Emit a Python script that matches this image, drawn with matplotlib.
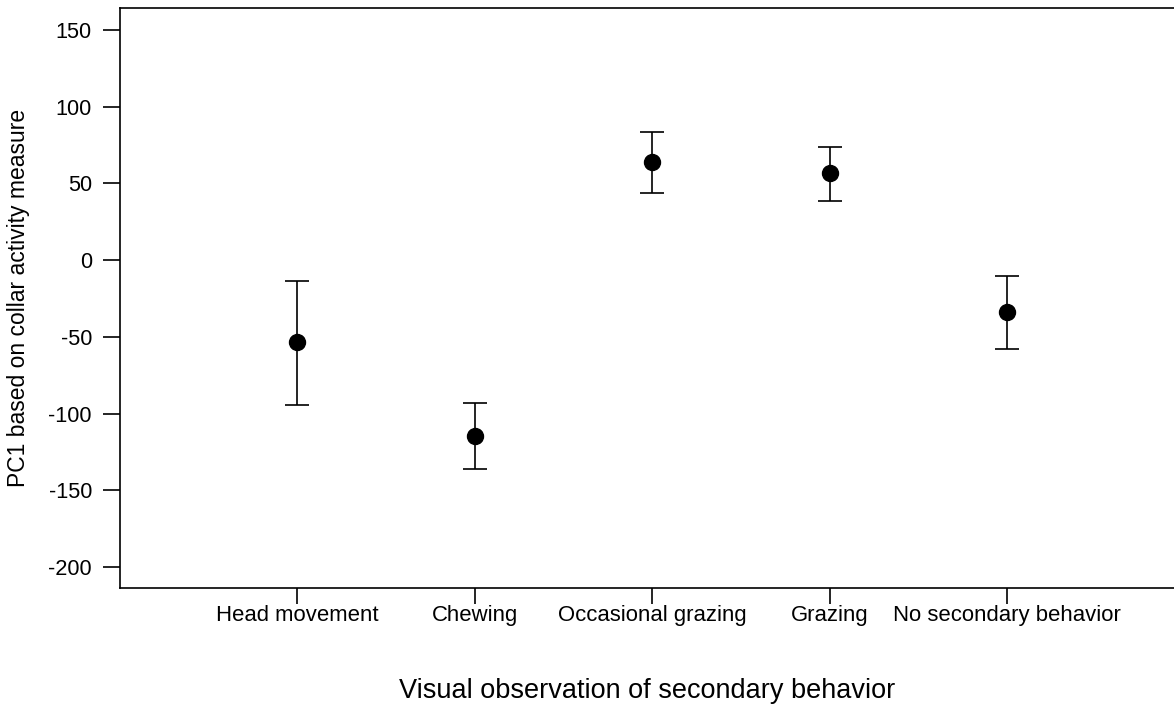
import numpy as np
import matplotlib
matplotlib.use('Agg')
import matplotlib.pyplot as plt

plt.rcParams['font.family'] = ['Liberation Sans', 'DejaVu Sans']

behaviors = ['Head movement', 'Chewing', 'Occasional grazing', 'Grazing', 'No secondary behavior']
means = [-53.5, -114.8, 63.9, 56.7, -33.9]
upper = [-13.7, -93.3, 83.5, 73.7, -10.4]
lower = [-94.6, -136.3, 43.7, 38.5, -58.0]
yticks = [150, 100, 50, 0, -50, -100, -150, -200]


def main():
    fig = plt.figure(figsize=(11.74, 7.04), dpi=100)
    ax = fig.add_axes([120 / 1174, 1 - 588 / 704, 1 - 120 / 1174, 580 / 704])

    x = np.arange(1, len(behaviors) + 1)
    m = np.array(means)
    yerr = [m - np.array(lower), np.array(upper) - m]
    ax.errorbar(x, m, yerr=yerr, fmt='o', color='black', markersize=11.5,
                elinewidth=1.2, capsize=8.3, capthick=1.2)

    ax.set_xlim(0, 5.94)
    ax.set_ylim(-213.7, 164.3)
    ax.set_xticks(x)
    ax.set_xticklabels(behaviors, fontsize=15.9)
    ax.set_yticks(yticks)
    ax.set_yticklabels([str(t) for t in yticks], fontsize=15.7)
    ax.tick_params(axis='y', length=12.2, width=1.2, pad=8)
    ax.tick_params(axis='x', length=11.5, width=1.2, pad=1)
    ax.spines['right'].set_visible(False)
    for s in ['left', 'bottom', 'top']:
        ax.spines[s].set_linewidth(1.2)

    ax.set_xlabel('Visual observation of secondary behavior', fontsize=19.5, labelpad=37)
    ax.set_ylabel('PC1 based on collar activity measure', fontsize=16.5, labelpad=13)

    fig.savefig('out.png', dpi=100)
    plt.close(fig)


if __name__ == "__main__":
    main()
